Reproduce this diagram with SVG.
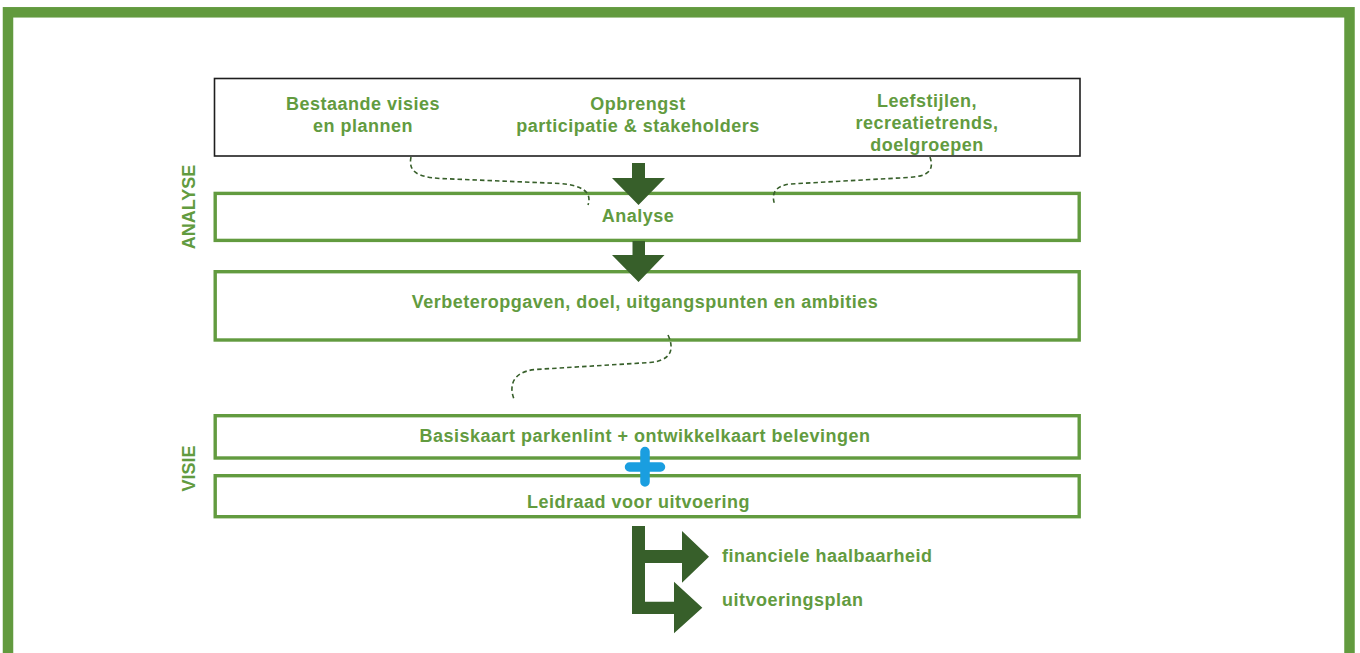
<svg xmlns="http://www.w3.org/2000/svg" width="1360" height="653" viewBox="0 0 1360 653">
<style>
.frame{fill:none;stroke:#629a3e;stroke-width:10.5}
.box{fill:#ffffff;stroke:#629b3f;stroke-width:3.4}
.topbox{fill:#ffffff;stroke:#1e1e1e;stroke-width:1.6}
.t{font-family:"Liberation Sans",Arial,sans-serif;font-weight:bold;font-size:18px;letter-spacing:0.5px;fill:#629b3f;text-anchor:middle}
.side{font-family:"Liberation Sans",Arial,sans-serif;font-weight:bold;font-size:18px;fill:#629b3f;text-anchor:middle}
.lbl{font-family:"Liberation Sans",Arial,sans-serif;font-weight:bold;font-size:18px;letter-spacing:0.5px;fill:#629b3f;text-anchor:start}
.dash{fill:none;stroke:#375f2a;stroke-width:1.6;stroke-dasharray:4.5 3}
.arrow{fill:#375f2a}
.plus{fill:none;stroke:#1a9ee0;stroke-width:9.5;stroke-linecap:round}
</style>
<rect width="1360" height="653" fill="#ffffff"/>
<rect class="frame" x="8" y="12.3" width="1341.5" height="646"/>

<text class="side" transform="translate(195,207) rotate(-90)">ANALYSE</text>
<text class="side" transform="translate(195,468.5) rotate(-90)">VISIE</text>

<g id="bronnen">
<rect class="topbox" x="214.5" y="78.5" width="865.5" height="77.5"/>
<text class="t" x="363" y="110">Bestaande visies</text>
<text class="t" x="363" y="132">en plannen</text>
<text class="t" x="638" y="110">Opbrengst</text>
<text class="t" x="638" y="132">participatie &amp; stakeholders</text>
<text class="t" x="927" y="107">Leefstijlen,</text>
<text class="t" x="927" y="129">recreatietrends,</text>
<text class="t" x="927" y="151">doelgroepen</text>
</g>

<g id="analyse">
<rect class="box" x="215.2" y="193.4" width="864" height="47"/>
<text class="t" x="638" y="221.5">Analyse</text>
</g>

<g id="verbeteropgaven">
<rect class="box" x="215.2" y="271.7" width="864" height="68.3"/>
<text class="t" x="645" y="308">Verbeteropgaven, doel, uitgangspunten en ambities</text>
</g>

<g id="basiskaart">
<rect class="box" x="215.2" y="415.7" width="864" height="42.3"/>
<text class="t" x="645" y="442">Basiskaart parkenlint + ontwikkelkaart belevingen</text>
</g>

<g id="leidraad">
<rect class="box" x="215.2" y="475.7" width="864" height="41"/>
<text class="t" x="638.5" y="507.5">Leidraad voor uitvoering</text>
</g>

<g id="financiele-haalbaarheid">
<text class="lbl" x="722" y="561.5">financiele haalbaarheid</text>
</g>
<g id="uitvoeringsplan">
<text class="lbl" x="722" y="605.5">uitvoeringsplan</text>
</g>

<g id="connectors">
<path class="dash" d="M411,157 C408,172 418,177 440,178.5 L560,183.5 C584,185.5 592,193 588,205"/>
<path class="dash" d="M930,157 C935,172 926,176.5 908,177.5 L790,184 C774,186 771,195 775,205"/>
<path class="dash" d="M668,335 C676,352 668,361 650,362.5 L535,369.5 C512,372 509,386 514,399"/>
<polygon class="arrow" points="632,163 645,163 645,178 665,178 638.5,205 612,178 632,178"/>
<polygon class="arrow" points="632.5,241 645,241 645,255 664.5,255 638.5,282 612,255 632.5,255"/>
<polygon class="arrow" points="632,526 645,526 645,550 682,550 682,531 709,556.7 682,582.7 682,563 645,563 645,601.7 674,601.7 674,581.7 702.3,607.7 674,633.3 674,614 632,614"/>
<path class="plus" d="M645,451.5 V482 M629.5,467 H660.5"/>
</g>
</svg>
